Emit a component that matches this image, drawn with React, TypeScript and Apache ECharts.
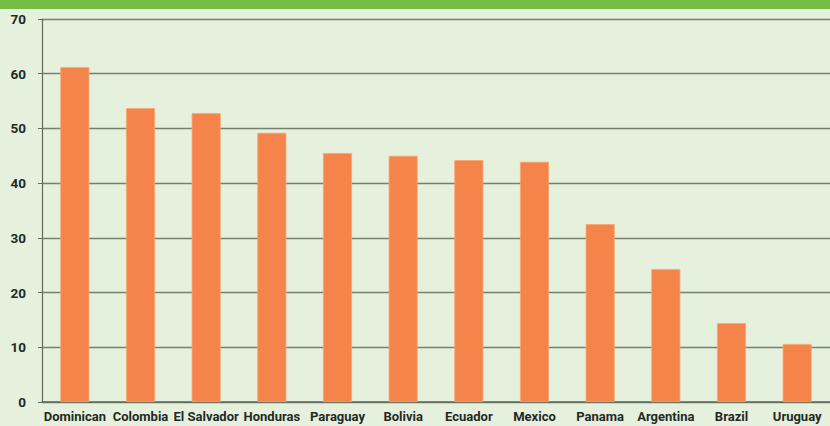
import React, { useEffect, useRef } from "react";
import * as echarts from "echarts";

const categories = ["Dominican", "Colombia", "El Salvador", "Honduras", "Paraguay", "Bolivia", "Ecuador", "Mexico", "Panama", "Argentina", "Brazil", "Uruguay"];
const values = [61.2, 53.7, 52.8, 49.2, 45.5, 45.0, 44.2, 43.9, 32.5, 24.3, 14.4, 10.6];
const yMin = 0;
const yMax = 70;
const yStep = 10;

export default function App() {
  const ref = useRef<HTMLDivElement>(null);
  useEffect(() => {
    if (!ref.current) return;
    const chart = echarts.init(ref.current, null, { renderer: "svg" });
    chart.setOption({
      animation: false,
      backgroundColor: "#e5f0dd",
      graphic: [
        { type: "rect", left: 0, top: 0, shape: { width: 830, height: 9 }, style: { fill: "#76bd46" }, z: 10 },
      ],
      grid: { left: 42, right: 0, top: 19, bottom: 24, containLabel: false },
      xAxis: {
        type: "category",
        data: categories,
        axisLine: { show: true, lineStyle: { color: "#5f6b5b", width: 1.5 } },
        axisTick: { show: false },
        axisLabel: {
          interval: 0,
          color: "#1f2a26",
          fontFamily: "Roboto, 'Noto Sans', sans-serif",
          fontWeight: "bold",
          fontSize: 13,
          margin: 8,
        },
      },
      yAxis: {
        type: "value",
        min: yMin,
        max: yMax,
        interval: yStep,
        axisLine: { show: true, lineStyle: { color: "#5f6b5b", width: 1.2 } },
        axisTick: { show: true, length: 4, lineStyle: { color: "#5f6b5b" } },
        splitLine: { show: true, lineStyle: { color: "#76806f", width: 1.3 } },
        axisLabel: {
          color: "#1f2a26",
          fontFamily: "Roboto, 'Noto Sans', sans-serif",
          fontWeight: "bold",
          fontSize: 13.5,
          margin: 16,
        },
      },
      series: [
        {
          type: "bar",
          data: values,
          barWidth: 29,
          itemStyle: { color: "#f5844a", borderColor: "#f8a472", borderWidth: 0.8 },
        },
      ],
    });
    return () => chart.dispose();
  }, []);
  return <div ref={ref} style={{ position: "fixed", left: 0, top: 0, width: 830, height: 426 }} />;
}
